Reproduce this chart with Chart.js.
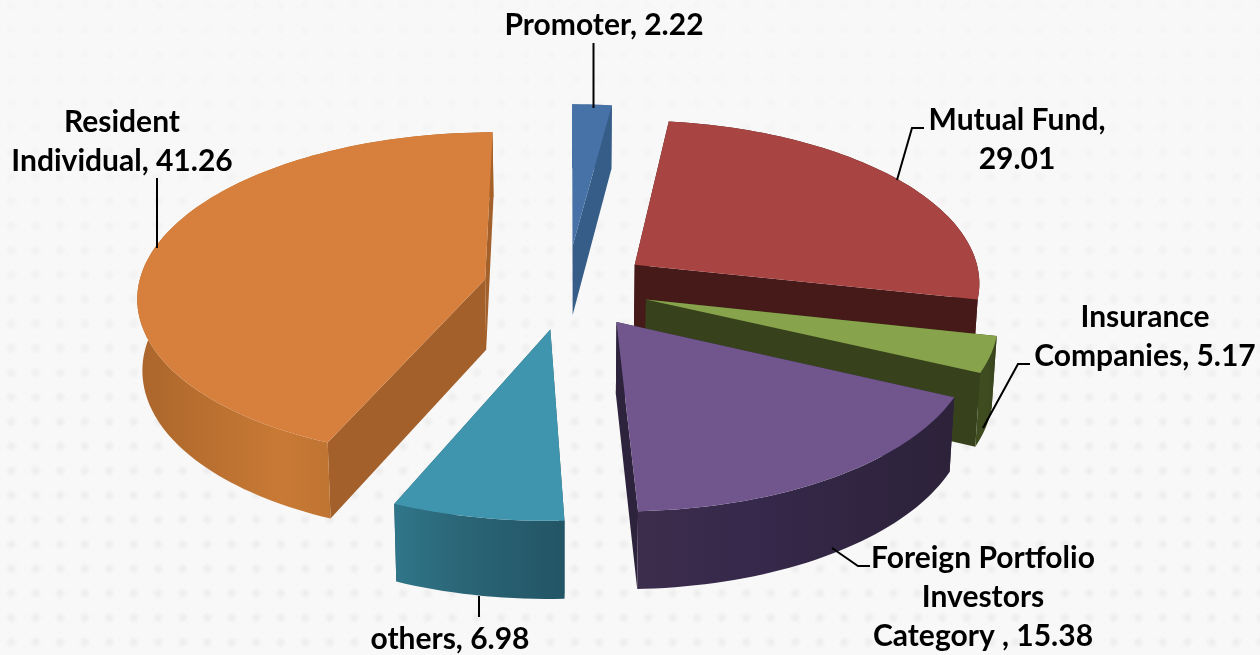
<!DOCTYPE html>
<html>
<head>
<meta charset="utf-8">
<script src="https://cdn.jsdelivr.net/npm/chart.js@4/dist/chart.umd.min.js"></script>
<style>
  html, body { margin: 0; padding: 0; width: 1260px; height: 655px; overflow: hidden; background: #f8f8f8; }
  #dots, #fine { position: absolute; left: 0; top: 0; width: 1260px; height: 655px; }
  #fine {
    background-image:
      radial-gradient(circle, #f3f3e6 0.8px, transparent 1.2px),
      radial-gradient(circle, #f3f3e6 0.8px, transparent 1.2px);
    background-size: 17px 16px;
    background-position: 0 0, 8.5px 8px;
  }
  #dots {
    background-image: radial-gradient(circle, #ececec 0, #f0f0f0 2.5px, transparent 6px);
    background-size: 24.5px 24.5px;
    background-position: -1px -7px;
    -webkit-mask-image: linear-gradient(to bottom, rgba(0,0,0,0.1) 60px, rgba(0,0,0,0.5) 220px, #000 420px);
    mask-image: linear-gradient(to bottom, rgba(0,0,0,0.1) 60px, rgba(0,0,0,0.5) 220px, #000 420px);
  }
  #myChart { position: absolute; left: 0; top: 0; }
</style>
</head>
<body>
<div id="fine"></div>
<div id="dots"></div>
<canvas id="myChart" width="1260" height="655"></canvas>
<script>
var categories = ["Promoter", "Mutual Fund", "Insurance Companies", "Foreign Portfolio Investors Category ", "others", "Resident Individual"];
var shareValues = [2.22, 29.01, 5.17, 15.38, 6.98, 41.26];
var sliceOffsets = [76, 70, 69, 73, 75, 70];

var topColors = ["#4672a8", "#a84442", "#87a34b", "#71568e", "#4095ae", "#d77f3c"];
var wallColors = ["#365d88", "#451a18", "#37421c", "#2e233d", "#235565", "#a3602a"];
var rimColors = [
  ["#365d88", "#365d88", "#365d88"],
  ["#451a18", "#451a18", "#451a18"],
  ["#3e4c20", "#3e4c20", "#37421c"],
  ["#3d2d4d", "#35284a", "#2c2239"],
  ["#30768a", "#2a6576", "#235565"],
  ["#ab652b", "#c87a35", "#a66129"]
];
var drawOrder = [0, 1, 2, 3, 5, 4];

// view of the tilted pie, fitted by eye
var view = { cx: 567, cy: 287, rx: 347, ry: 163, p: 0.1, depth: 71 };

// the 3d projection of the original doesn't keep angles, so bend them a bit
function bend(deg) {
  var g = (deg - 131) / 18;
  return deg - 8.7 * Math.sin((deg * Math.PI) / 360) - 8 * Math.exp(-g * g);
}

function project(u, v, low) {
  var s = 1 / (1 - view.p * v);
  var x = view.cx + view.rx * u * s;
  var y = view.cy + view.ry * v * s;
  if (low) {
    x = view.cx + (x - view.cx) * 0.988;
    y += view.depth * (1 + 0.08 * v);
  }
  return { x: x, y: y };
}

function polygon(ctx, pts, fill) {
  ctx.beginPath();
  pts.forEach(function (pt, i) {
    if (i == 0) ctx.moveTo(pt.x, pt.y);
    else ctx.lineTo(pt.x, pt.y);
  });
  ctx.closePath();
  ctx.fillStyle = fill;
  ctx.fill();
}

var pie3d = {
  id: "pie3d",
  beforeDatasetsDraw: function (chart) {
    var ctx = chart.ctx;
    var arcs = chart.getDatasetMeta(0).data;
    drawOrder.forEach(function (i) {
      var arc = arcs[i];
      var p = arc.getProps(["startAngle", "endAngle", "outerRadius"], true);
      var d = arc.options.offset / p.outerRadius;
      var a0 = bend(((p.startAngle + Math.PI / 2) * 180) / Math.PI);
      var a1 = bend(((p.endAngle + Math.PI / 2) * 180) / Math.PI);
      var mid = ((a0 + a1) / 2) * (Math.PI / 180);
      var tipU = d * Math.sin(mid);
      var tipV = -d * Math.cos(mid);

      var top = [], low = [];
      for (var a = a0; a < a1 + 1; a += 1.5) {
        var t = (Math.min(a, a1) * Math.PI) / 180;
        var u = tipU + Math.sin(t);
        var v = tipV - Math.cos(t);
        top.push(project(u, v, false));
        low.push(project(u, v, true));
      }
      var tipTop = project(tipU, tipV, false);
      var tipLow = project(tipU, tipV, true);
      var last = top.length - 1;

      // inner walls
      polygon(ctx, [tipTop, top[0], low[0], tipLow], wallColors[i]);
      polygon(ctx, [tipTop, top[last], low[last], tipLow], wallColors[i]);

      // outer rim
      var xs = top.map(function (pt) { return pt.x; });
      var grad = ctx.createLinearGradient(Math.min.apply(null, xs), 0, Math.max.apply(null, xs), 0);
      grad.addColorStop(0, rimColors[i][0]);
      grad.addColorStop(0.4, rimColors[i][1]);
      grad.addColorStop(1, rimColors[i][2]);
      polygon(ctx, top.concat(low.slice().reverse()), grad);

      // top face
      polygon(ctx, [tipTop].concat(top), topColors[i]);
    });
    return false;
  },
};

var labelBlocks = [
  { x: 604, y: 25, lines: [categories[0] + ", " + shareValues[0]] },
  { x: 122, y: 122, lines: ["Resident", "Individual, " + shareValues[5]] },
  { x: 1017, y: 120, lines: [categories[1] + ",", shareValues[1].toFixed(2)] },
  { x: 1145, y: 317, lines: ["Insurance", "Companies, " + shareValues[2]] },
  { x: 983, y: 558, lines: ["Foreign Portfolio", "Investors", "Category , " + shareValues[3]] },
  { x: 450, y: 639, lines: [categories[4] + ", " + shareValues[4]] },
];
var leaders = [
  [[593.5, 43], [593.5, 108]],
  [[157, 178], [157, 248]],
  [[924, 128], [912, 128], [897, 180]],
  [[1030, 364], [1018, 364], [983, 428]],
  [[832, 548], [858, 566], [870, 566]],
  [[479, 596], [479, 617]],
];

var pieLabels = {
  id: "pieLabels",
  afterDraw: function (chart) {
    var ctx = chart.ctx;
    ctx.save();
    ctx.strokeStyle = "#000";
    ctx.lineWidth = 2;
    leaders.forEach(function (line) {
      ctx.beginPath();
      line.forEach(function (pt, i) {
        if (i == 0) ctx.moveTo(pt[0], pt[1]);
        else ctx.lineTo(pt[0], pt[1]);
      });
      ctx.stroke();
    });
    ctx.fillStyle = "#000";
    ctx.font = "bold 30px Lato";
    ctx.textAlign = "center";
    ctx.textBaseline = "middle";
    labelBlocks.forEach(function (block) {
      block.lines.forEach(function (line, i) {
        ctx.fillText(line, block.x, block.y + i * 39);
      });
    });
    ctx.restore();
  },
};

new Chart("myChart", {
  type: "pie",
  data: {
    labels: categories,
    datasets: [
      {
        data: shareValues,
        backgroundColor: topColors,
        offset: sliceOffsets,
        borderWidth: 0,
      },
    ],
  },
  options: {
    responsive: false,
    animation: false,
    plugins: {
      legend: { display: false },
      tooltip: { enabled: false },
    },
  },
  plugins: [pie3d, pieLabels],
});
</script>
</body>
</html>
